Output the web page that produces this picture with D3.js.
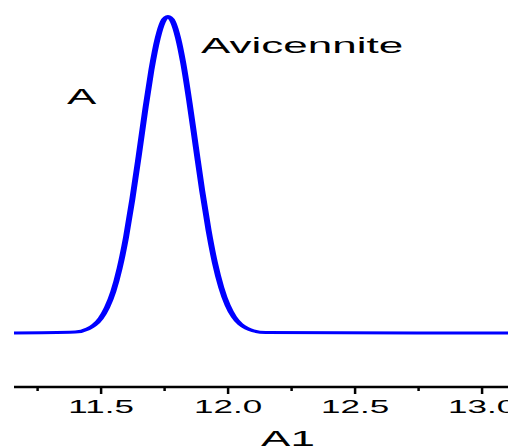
<!DOCTYPE html>
<html>
<head>
<meta charset="utf-8">
<script src="https://cdn.jsdelivr.net/npm/d3@7"></script>
<style>
  html, body { margin: 0; padding: 0; background: #fff; }
  svg { display: block; overflow: hidden; }
  text { font-family: "Liberation Sans", Arial, sans-serif; fill: #000; }
</style>
</head>
<body>
<script>
// peak positions (x in A1 units, y relative intensity)
const xs = [11.159, 11.40, 11.45, 11.475, 11.50, 11.525, 11.55, 11.575, 11.60, 11.625, 11.65, 11.675,
  11.70, 11.725, 11.745, 11.765, 11.785, 11.805, 11.825, 11.85, 11.875, 11.90, 11.925, 11.95, 11.975,
  12.00, 12.025, 12.05, 12.075, 12.10, 12.15, 13.104];
const ys = [0, 0.3, 1.3, 2.5, 4.6, 8.0, 13.1, 20.5, 30.2, 42.3, 55.9, 70.1,
  83.1, 93.2, 98.3, 100, 98.3, 93.2, 85.4, 72.8, 58.8, 44.9, 32.5, 22.2, 14.4,
  8.8, 5.1, 2.8, 1.5, 0.7, 0.15, 0];
const majorTicks = [11.5, 12.0, 12.5, 13.0];
const minorTicks = [11.25, 11.75, 12.25, 12.75];
const peakLabel = 'Avicennite';
const panelLabel = 'A';
const xTitle = 'A1';

const H = 448;
const sx = 2; // the whole figure is stretched twice as wide

const svg = d3.select('body').append('svg')
  .attr('width', 508)
  .attr('height', H);

const x = d3.scaleLinear().domain([11.159, 13.104]).range([14, 508]);
const xHalf = x.copy().range([14 / sx, 508 / sx]);
const y = d3.scaleLinear().domain([0, 100]).range([333, 16.5]);

const data = xs.map((v, i) => [v, ys[i]]);

// line drawn in unstretched space, then stretched
svg.append('g')
  .attr('transform', `scale(${sx},1)`)
  .append('path')
  .datum(data)
  .attr('fill', 'none')
  .attr('stroke', '#0000ff')
  .attr('stroke-width', 3)
  .attr('stroke-linejoin', 'round')
  .attr('d', d3.line()
    .x(d => xHalf(d[0]))
    .y(d => y(d[1]))
    .curve(d3.curveMonotoneX));

// axis
const axisY = 387;
const gMinor = svg.append('g')
  .attr('transform', `translate(0,${axisY})`)
  .call(d3.axisBottom(x).tickValues(minorTicks).tickSize(4).tickSizeOuter(0).tickFormat(''));
gMinor.select('.domain').remove();
gMinor.selectAll('line').attr('stroke-width', 2.5);

const gx = svg.append('g')
  .attr('transform', `translate(0,${axisY})`)
  .call(d3.axisBottom(x).tickValues(majorTicks).tickSize(7).tickSizeOuter(0)
    .tickFormat(d3.format('.1f')));
gx.select('.domain').attr('stroke-width', 2.5).attr('d', `M${x.range()[0]},0H${x.range()[1]}`);
gx.selectAll('.tick line').attr('stroke-width', 2.5);
gx.selectAll('.tick text')
  .attr('y', 26)
  .attr('dy', 0)
  .attr('transform', `scale(${sx},1)`)
  .style('font-size', '17.5px')
  .style('font-family', '"Liberation Sans", Arial, sans-serif')
  .attr('fill', '#000');

// labels
svg.append('text')
  .attr('transform', `translate(201,53) scale(${sx},1)`)
  .style('font-size', '22px')
  .text(peakLabel);

svg.append('text')
  .attr('transform', `translate(67,104) scale(${sx},1)`)
  .style('font-size', '22px')
  .text(panelLabel);

svg.append('text')
  .attr('transform', `translate(288,446) scale(${sx},1)`)
  .attr('text-anchor', 'middle')
  .style('font-size', '22px')
  .text(xTitle);
</script>
</body>
</html>
